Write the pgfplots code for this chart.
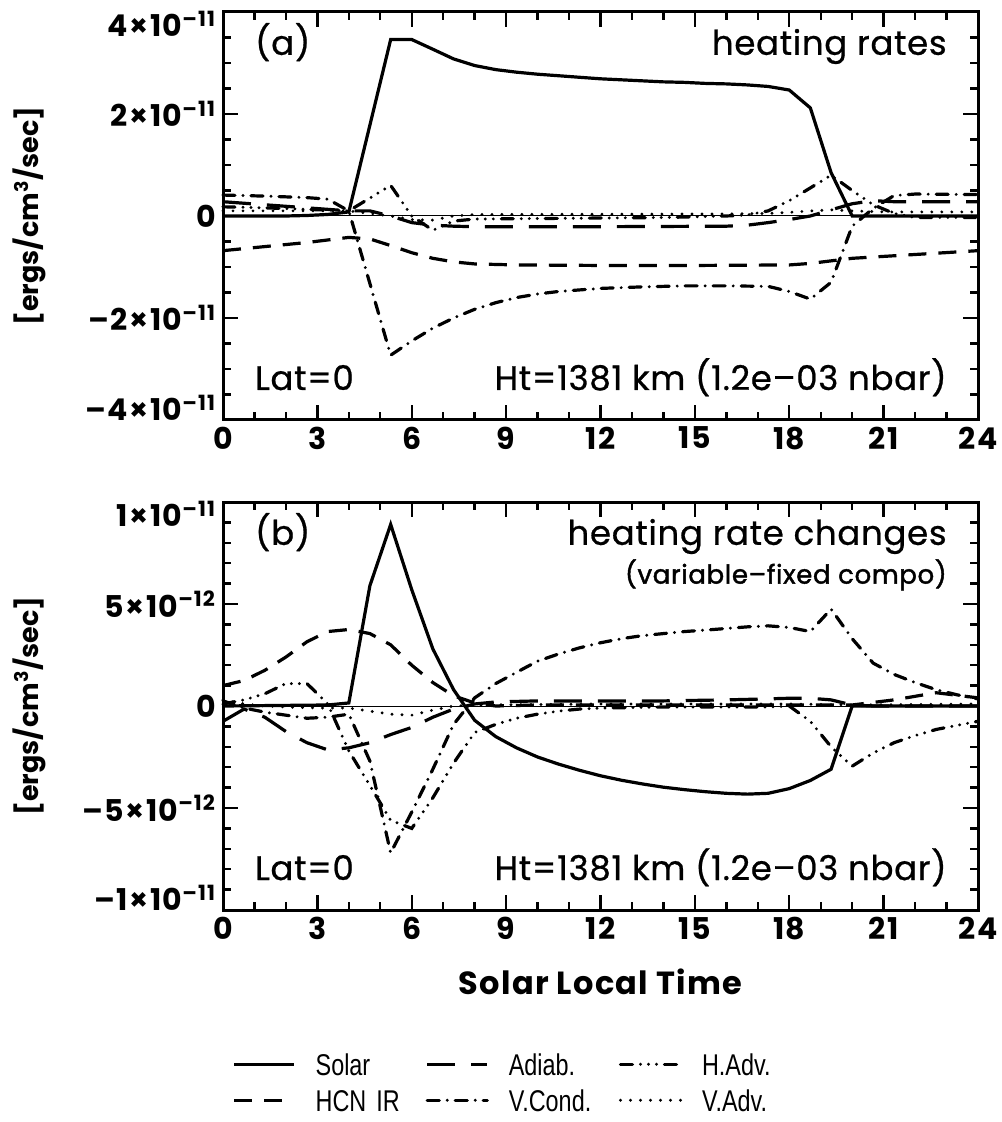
\documentclass[border=0pt]{standalone}
\usepackage{fontspec}
\setmainfont{Poppins}
\newfontfamily\pfont[FakeBold=0.7, LetterSpace=2]{Poppins}
\newfontfamily\pfontb[FakeBold=1.6, LetterSpace=2.5]{Poppins}
\newfontfamily\legfont[FakeStretch=0.78]{Liberation Sans}
\usepackage{pgfplots}
\pgfplotsset{compat=1.18}

\tikzset{
 lsolid/.style={line width=1.6pt},
 ldot/.style={line width=1.6pt, line cap=round, dash pattern=on 0pt off 5pt},
 ldash/.style={line width=1.6pt, dash pattern=on 9pt off 6pt},
 ldashdot/.style={line width=1.6pt, line cap=round, dash pattern=on 6pt off 4pt on 0pt off 4pt},
 ldashddd/.style={line width=1.6pt, line cap=round, dash pattern=on 6pt off 4pt on 0pt off 4pt on 0pt off 4pt on 0pt off 4pt},
 llong/.style={line width=1.6pt, dash pattern=on 14pt off 8pt},
 ptext/.style={inner sep=0pt, font=\pfont\fontsize{17pt}{20pt}\selectfont},
}
\newcommand{\dn}[1]{\raisebox{-6pt}[\height][\depth]{#1}}
\newcommand{\up}[1]{\raisebox{6pt}[\height][\depth]{#1}}
\pgfplotsset{panel/.style={
 scale only axis, width=377.5pt, height=204pt,
 xmin=0, xmax=24, xtick={0,3,...,24}, xticklabels={0,3,6,9,12,15,18,21,24},
 minor x tick num=2,
 axis line style={line width=1.5pt},
 major tick length=7.5pt, minor tick length=4pt,
 tick style={line width=1.2pt, black},
 tick align=inside,
 ticklabel style={font=\bfseries\fontsize{15pt}{17pt}\selectfont\addfontfeatures{LetterSpace=5}},
 ylabel={[ergs/cm\textsuperscript{3}/sec]},
 ylabel style={font=\bfseries\fontsize{13.5pt}{15pt}\selectfont, at={(axis description cs:-0.256,0.5)}, anchor=center},
 clip=false,
}}

\begin{document}
\begin{tikzpicture}
\path[use as bounding box] (0,0) rectangle (500.5pt,-561pt);

% ---------------- panel (a) ----------------
\begin{axis}[panel, at={(111.5pt,-6pt)}, anchor=north west,
 ymin=-4, ymax=4, ytick={-4,-2,0,2,4}, minor y tick num=3,
 yticklabels={\up{–4×10\textsuperscript{–11}}, –2×10\textsuperscript{–11}, 0, 2×10\textsuperscript{–11}, \dn{4×10\textsuperscript{–11}}}]
\addplot[line width=0.5pt] coordinates {(0,0) (24,0)};
% Solar
\addplot[lsolid] coordinates {(0,0) (0.67,0) (1.33,0) (2,0) (2.67,0.01) (3.33,0.03) (4,0.08) (5.33,3.46) (6,3.46) (6.67,3.27) (7.33,3.08) (8,2.95) (8.67,2.87) (9.33,2.82) (10,2.78) (10.67,2.75) (11.33,2.72) (12,2.69) (12.67,2.67) (13.33,2.65) (14,2.63) (14.67,2.62) (15.33,2.6) (16,2.59) (16.67,2.57) (17.33,2.54) (18,2.47) (18.67,2.12) (19.33,0.85) (20,0) (24,0)};
% HCN IR
\addplot[ldash] coordinates {(0,-0.68) (1.33,-0.6) (2.67,-0.52) (4,-0.42) (4.67,-0.45) (5.33,-0.58) (6,-0.72) (6.67,-0.83) (7.33,-0.9) (8,-0.94) (9.33,-0.96) (12,-0.97) (15,-0.97) (18,-0.96) (18.67,-0.93) (19.33,-0.88) (20,-0.83) (21.33,-0.78) (22.67,-0.73) (24,-0.68)};
% Adiab
\addplot[llong] coordinates {(0,0.28) (1.33,0.22) (2.67,0.16) (4,0.1) (4.67,0.1) (5.33,0.0) (6,-0.13) (6.67,-0.18) (7.33,-0.2) (8,-0.21) (12,-0.21) (16,-0.2) (16.67,-0.18) (17.33,-0.13) (18,-0.07) (18.67,0.0) (19.33,0.12) (20,0.24) (20.67,0.3) (21.33,0.28) (24,0.28)};
% V.Cond
\addplot[ldashdot] coordinates {(0,0.41) (1.33,0.39) (2.67,0.36) (3.33,0.33) (4,0.1) (5.33,-2.73) (6,-2.45) (6.67,-2.2) (7.33,-2.0) (8,-1.83) (8.67,-1.7) (9.33,-1.6) (10,-1.53) (10.67,-1.48) (11.33,-1.45) (12,-1.42) (13.33,-1.39) (14.67,-1.37) (16,-1.37) (17.33,-1.38) (18,-1.48) (18.67,-1.63) (19.33,-1.3) (20,-0.2) (20.67,0.15) (21.33,0.4) (22,0.43) (24,0.42)};
% H.Adv
\addplot[ldashddd] coordinates {(0,0.18) (1.33,0.16) (2.67,0.13) (4,0.1) (5.33,0.6) (6,0.0) (6.67,-0.28) (7.33,-0.1) (8,-0.06) (10,-0.05) (14,-0.03) (16,0.0) (16.67,0.02) (17.33,0.1) (18,0.3) (18.67,0.55) (19.33,0.8) (20,0.5) (20.67,0.22) (21.33,0.05) (22,-0.03) (24,-0.03)};
% V.Adv
\addplot[ldot] coordinates {(0,0.1) (2,0.1) (4,0.1) (4.67,0.05) (5.33,0.0) (6,-0.07) (6.67,-0.08) (7.33,0.0) (8,0.03) (16,0.04) (17.33,0.05) (18,0.07) (18.67,0.1) (19.33,0.12) (20,0.1) (21,0.08) (24,0.08)};
\node[ptext, anchor=base west] at (axis description cs:0.042,0.895) {(a)};
\node[ptext, anchor=base east] at (axis description cs:0.959,0.895) {heating rates};
\node[ptext, anchor=base west] at (axis description cs:0.042,0.0735) {Lat=0};
\node[ptext, anchor=base east] at (axis description cs:0.959,0.0735) {Ht=1381 km (1.2e–03 nbar)};
\end{axis}

% ---------------- panel (b) ----------------
\begin{axis}[panel, at={(111.5pt,-251pt)}, anchor=north west,
 ymin=-10, ymax=10, ytick={-10,-5,0,5,10}, minor y tick num=4,
 yticklabels={\up{–1×10\textsuperscript{–11}}, –5×10\textsuperscript{–12}, 0, 5×10\textsuperscript{–12}, \dn{1×10\textsuperscript{–11}}},
 xlabel={Solar Local Time},
 xlabel style={font=\bfseries\fontsize{16pt}{18pt}\selectfont\addfontfeatures{LetterSpace=4}, at={(axis description cs:0.5,-0.176)}, anchor=center},
 legend columns=3,
 legend cell align=left,
 legend image code/.code={\draw[#1] (0pt,0pt) -- (30pt,0pt);},
 legend style={at={(axis description cs:0.012,-0.35)}, anchor=north west,
   draw=none, fill=none, inner sep=0pt,
   nodes={inner sep=0pt, text width=45pt, text height=11pt, text depth=0pt, align=left},
   font=\legfont\fontsize{15pt}{15pt}\selectfont,
   row sep=7pt,
   /tikz/every even column/.append style={column sep=10pt},
   /tikz/every odd column/.append style={column sep=10pt}},
]
\addplot[line width=0.5pt, forget plot] coordinates {(0,0) (24,0)};
% Solar
\addplot[lsolid] coordinates {(0,0) (3.33,0.05) (4,0.15) (4.67,5.9) (5.33,8.9) (6,5.7) (6.67,2.8) (7.33,0.8) (8,-0.7) (8.67,-1.5) (9.33,-2.05) (10,-2.5) (10.67,-2.85) (11.33,-3.15) (12,-3.42) (12.67,-3.64) (13.33,-3.82) (14,-3.98) (14.67,-4.1) (15.33,-4.2) (16,-4.28) (16.67,-4.32) (17.33,-4.28) (18,-4.05) (18.67,-3.65) (19.33,-3.1) (20,0) (24,0)};
\addlegendentry{Solar}
% Adiab
\addplot[llong] coordinates {(0,-0.75) (0.67,-0.15) (1.33,-0.55) (2,-1.25) (2.67,-1.8) (3.33,-2.15) (4,-2.05) (4.67,-1.8) (5.33,-1.4) (6,-1.05) (6.67,-0.55) (7.33,-0.15) (8,0.1) (8.67,0.2) (10,0.25) (12,0.25) (14,0.25) (16,0.3) (17.33,0.35) (18,0.38) (18.67,0.38) (19.33,0.3) (20,0.05) (20.67,0.0) (24,0.0)};
\addlegendentry{Adiab.}
% H.Adv
\addplot[ldashddd] coordinates {(0,0.1) (0.67,0.3) (1.33,0.6) (2,1.1) (2.67,1.1) (3.33,0.1) (4,-2.2) (4.67,-3.9) (5.33,-5.6) (6,-6.0) (6.67,-4.5) (7.33,-2.8) (8,-1.3) (8.67,-0.9) (9.33,-0.6) (10,-0.4) (10.67,-0.25) (11.33,-0.15) (12,-0.1) (14,-0.05) (16,-0.05) (17.33,-0.05) (18,0.0) (18.67,-0.75) (19.33,-2.0) (20,-2.95) (20.67,-2.3) (21.33,-1.8) (22,-1.45) (22.67,-1.15) (23.33,-0.95) (24,-0.75)};
\addlegendentry{H.Adv.}
% HCN IR
\addplot[ldash] coordinates {(0,1.0) (0.67,1.25) (1.33,1.75) (2,2.4) (2.67,3.15) (3.33,3.65) (4,3.75) (4.67,3.55) (5.33,3.0) (6,2.0) (6.67,1.15) (7.33,0.5) (8,0.15) (8.67,0.0) (10,0.05) (18,0.05) (20,0.05) (21.33,0.3) (22.67,0.65) (24,0.4)};
\addlegendentry{HCN IR}
% V.Cond
\addplot[ldashdot] coordinates {(0,0.25) (0.67,-0.1) (1.33,-0.3) (2,-0.45) (2.67,-0.6) (3.33,-0.55) (4,-0.4) (4.67,-2.7) (5.33,-7.2) (6,-5.2) (6.67,-3.1) (7.33,-0.9) (8,0.4) (8.67,1.1) (9.33,1.65) (10,2.2) (10.67,2.55) (11.33,2.85) (12,3.1) (12.67,3.3) (13.33,3.45) (14,3.55) (14.67,3.65) (15.33,3.72) (16,3.8) (16.67,3.88) (17.33,3.93) (18,3.85) (18.67,3.65) (19.33,4.75) (20,3.3) (20.67,2.1) (21.33,1.55) (22,1.15) (22.67,0.8) (23.33,0.55) (24,0.35)};
\addlegendentry{V.Cond.}
% V.Adv
\addplot[ldot] coordinates {(0,0.3) (0.67,0.1) (1.33,0.0) (2,-0.05) (2.67,-0.08) (3.33,-0.1) (4,-0.1) (4.67,-0.25) (5.33,-0.4) (6,-0.45) (6.67,-0.2) (7.33,0.0) (8,0.05) (12,0.1) (18,0.1) (20,0.05) (24,0.1)};
\addlegendentry{V.Adv.}
\node[ptext, anchor=base west] at (axis description cs:0.042,0.895) {(b)};
\node[ptext, anchor=base east] at (axis description cs:0.959,0.895) {heating rate changes};
\node[inner sep=0pt, anchor=base east, font=\pfontb\fontsize{13pt}{15pt}\selectfont] at (axis description cs:0.959,0.80) {(variable–fixed compo)};
\node[ptext, anchor=base west] at (axis description cs:0.042,0.0735) {Lat=0};
\node[ptext, anchor=base east] at (axis description cs:0.959,0.0735) {Ht=1381 km (1.2e–03 nbar)};
\end{axis}
\end{tikzpicture}
\end{document}
